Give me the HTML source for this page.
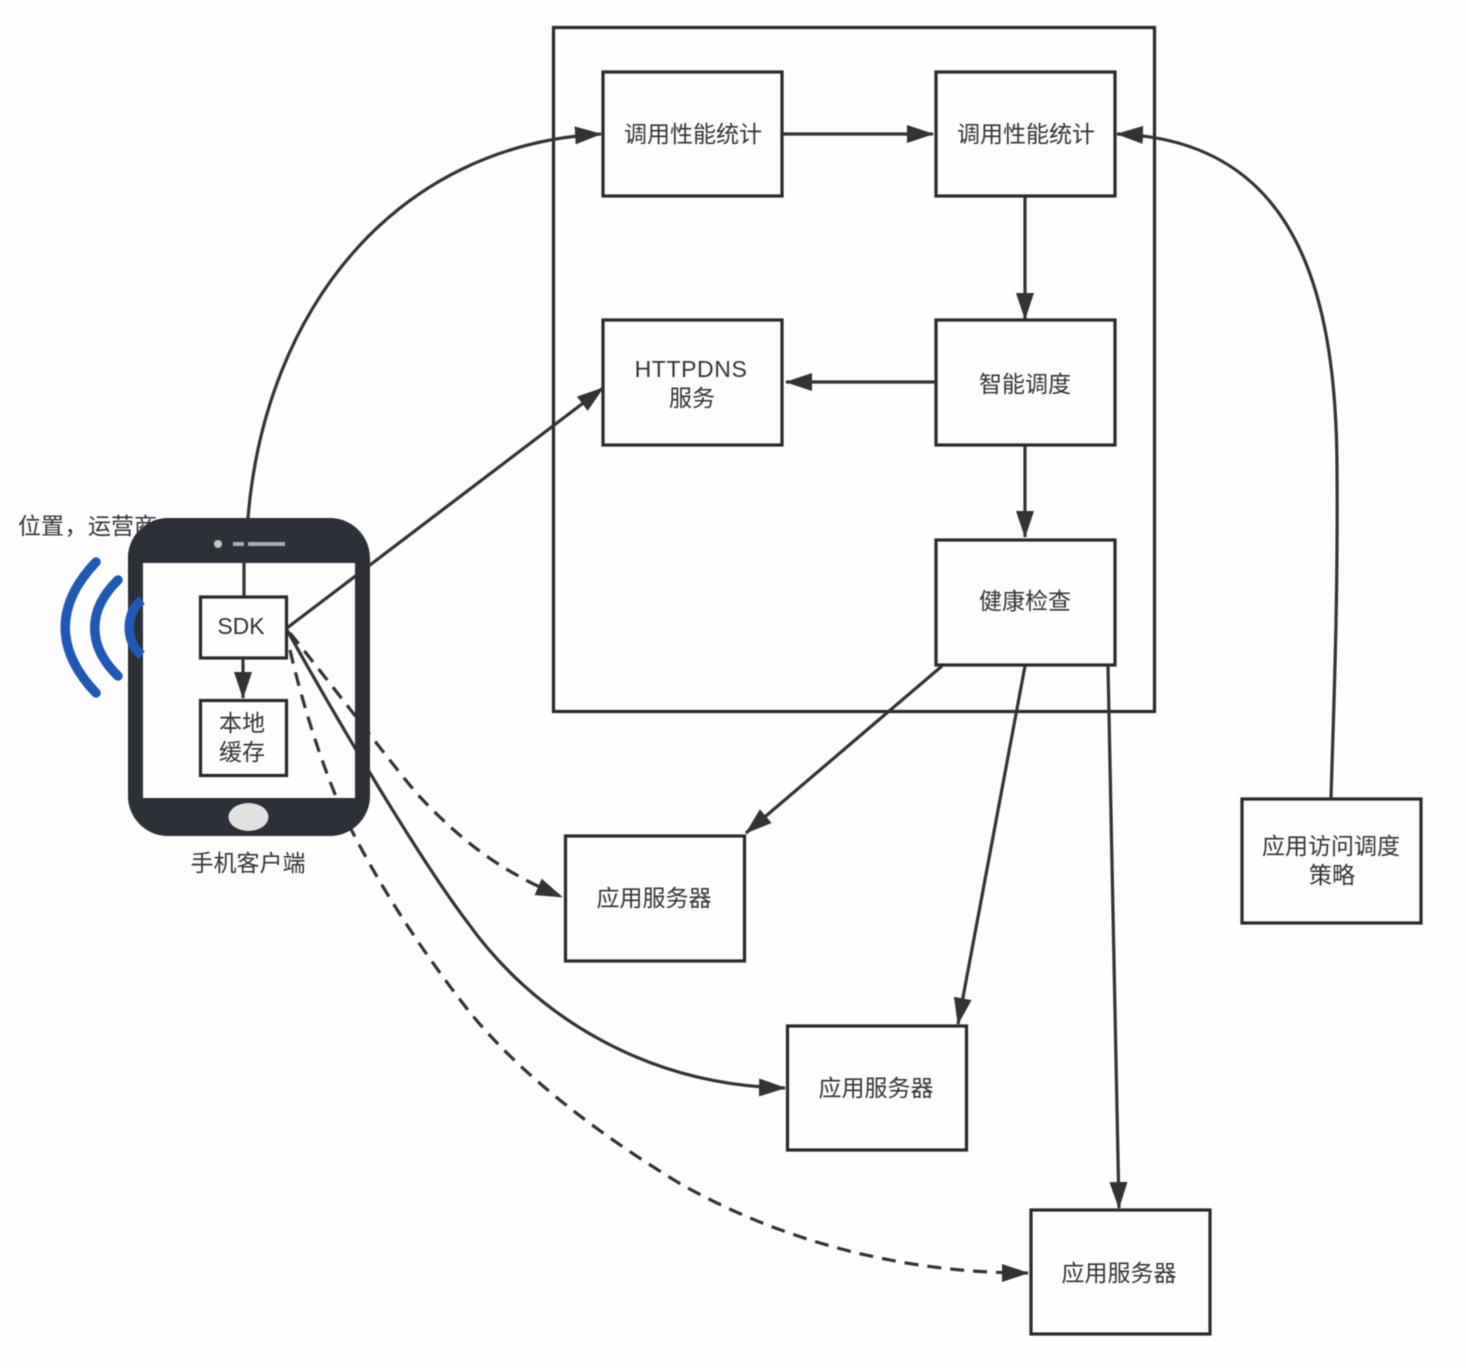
<!DOCTYPE html>
<html><head><meta charset="utf-8"><style>
html,body{margin:0;padding:0;background:#fdfdfe}
svg{display:block;filter:blur(0.45px)}
text{font-family:"Liberation Sans","Noto Sans CJK SC",sans-serif;font-size:23px;fill:#333;text-anchor:middle;font-weight:400}
.b{fill:#fdfdfe;stroke:#2a2a2a;stroke-width:3.2}
.l{fill:none;stroke:#333;stroke-width:3.2}
.d{stroke-dasharray:14 9}
</style></head><body>
<svg width="1466" height="1368" viewBox="0 0 1466 1368" xmlns="http://www.w3.org/2000/svg">
<defs>
<marker id="a" markerUnits="userSpaceOnUse" markerWidth="30" markerHeight="20" refX="26" refY="9" orient="auto"><path d="M0 0L27 9L0 18z" fill="#333"/></marker>
</defs>
<rect width="1466" height="1368" fill="#fdfdfe"/>
<rect x="553.500" y="27.500" width="601" height="684" fill="none" stroke="#2a2a2a" stroke-width="3.200"/>

<text x="18" y="534" style="text-anchor:start">位置</text>
<text x="76" y="534">，</text>
<text x="88" y="534" style="text-anchor:start">运营商</text>

<rect class="b" x="603" y="72" width="179" height="124"/>
<rect class="b" x="936" y="72" width="179" height="124"/>
<rect class="b" x="603" y="320" width="179" height="125"/>
<rect class="b" x="936" y="320" width="179" height="125"/>
<rect class="b" x="936" y="540" width="179" height="125"/>
<rect class="b" x="565.500" y="836" width="179" height="125"/>
<rect class="b" x="787.500" y="1026" width="179" height="124"/>
<rect class="b" x="1031" y="1210" width="179" height="124"/>
<rect class="b" x="1242" y="799" width="179" height="124"/>

<!-- connectors -->
<path class="l" d="M244 597L244 563L248 518C265 310 395 145 601 134" marker-end="url(#a)"/>
<path class="l" d="M287 628L603 388" marker-end="url(#a)"/>
<path class="l" d="M287 630C340 725 420 860 468 923C530 1010 640 1085 785 1088" marker-end="url(#a)"/>
<path class="l d" d="M290 633C340 695 400 775 420 797C470 850 510 875 562 897" marker-end="url(#a)"/>
<path class="l d" d="M290 650C305 715 330 790 353 833C385 895 425 955 468 1010C520 1075 600 1135 679 1183C770 1235 890 1273 1028 1273" marker-end="url(#a)"/>
<path class="l" d="M783 134L933 134" marker-end="url(#a)"/>
<path class="l" d="M1025 197L1025 319" marker-end="url(#a)"/>
<path class="l" d="M935 382L786 382" marker-end="url(#a)"/>
<path class="l" d="M1025 446L1025 537" marker-end="url(#a)"/>
<path class="l" d="M942 666L746 833" marker-end="url(#a)"/>
<path class="l" d="M1025 666L958 1024" marker-end="url(#a)"/>
<path class="l" d="M1108 666L1119 1208" marker-end="url(#a)"/>
<path class="l" d="M1331 798C1334 700 1338 600 1337 467C1336 290 1295 140 1117 134" marker-end="url(#a)"/>

<!-- phone -->
<path fill="#2e3038" fill-rule="evenodd" d="M168 518H330C352 518 370 536 370 558V796C370 818 352 836 330 836H168C146 836 128 818 128 796V558C128 536 146 518 168 518ZM143 563V798H355V563Z"/>
<circle cx="218" cy="544" r="4" fill="#c4c6ca"/>
<rect x="233" y="542" width="11" height="4" fill="#a9abb0"/>
<rect x="248" y="542" width="37" height="4" fill="#a9abb0"/>
<ellipse cx="248.500" cy="817" rx="20" ry="14" fill="#e2e2e3"/>
<g fill="none" stroke="#2158b5" stroke-width="9.500" stroke-linecap="round">
<path d="M96 562C55 605 55 650 96 693"/>
<path d="M118 580C87 610 87 646 118 676"/>
</g>
<path d="M142 600C125 612 125 643 142 655" fill="none" stroke="#2158b5" stroke-width="9.500"/>

<rect class="b" x="200.500" y="597" width="86" height="61"/>
<rect class="b" x="200.500" y="700.500" width="86" height="75"/>
<path class="l" d="M243 658L243 698" marker-end="url(#a)"/>

<!-- labels -->
<text x="693" y="142">调用性能统计</text>
<text x="1026" y="142">调用性能统计</text>
<text x="691" y="377" style="letter-spacing:0.600px">HTTPDNS</text>
<text x="692" y="406">服务</text>
<text x="1025" y="392">智能调度</text>
<text x="1025" y="609">健康检查</text>
<text x="654" y="906">应用服务器</text>
<text x="876" y="1096">应用服务器</text>
<text x="1119" y="1281">应用服务器</text>
<text x="1331" y="854">应用访问调度</text>
<text x="1332" y="883">策略</text>
<text x="241" y="634">SDK</text>
<text x="242" y="731">本地</text>
<text x="242" y="760">缓存</text>
<text x="248" y="871">手机客户端</text>
</svg>
</body></html>
